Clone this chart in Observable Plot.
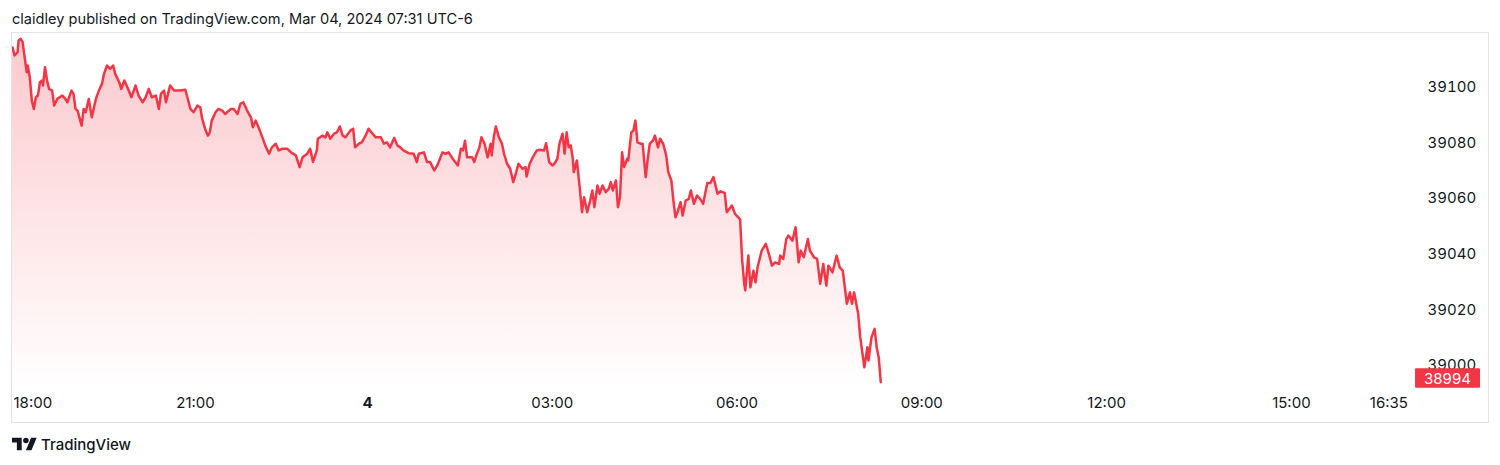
<!DOCTYPE html>
<html>
<head>
<meta charset="utf-8">
<script src="https://cdn.jsdelivr.net/npm/d3@7"></script>
<script src="https://cdn.jsdelivr.net/npm/@observablehq/plot@0.6"></script>
<style>
  html, body { margin: 0; padding: 0; background: #ffffff; }
  body { width: 1500px; height: 465px; position: relative; overflow: hidden; font-family: Inter, "Noto Sans", sans-serif; color: #131722; }
  #hdr { position: absolute; left: 12px; top: 9px; font-size: 14.6px; line-height: 20px; white-space: nowrap; }
  #chart { position: absolute; left: 0; top: 33px; }
  #frame { position: absolute; left: 11px; top: 32px; width: 1478px; height: 391px; box-sizing: border-box; border: 1px solid #E0E3EB; pointer-events: none; }
  #ftr { position: absolute; left: 12px; top: 434px; height: 20px; display: flex; align-items: center; gap: 4px; font-size: 15px; font-weight: 500; }
</style>
</head>
<body>
<div id="hdr">claidley published on TradingView.com, Mar 04, 2024 07:31 UTC-6</div>
<div id="chart"></div>
<div id="frame"></div>
<div id="ftr">
  <svg width="25" height="20" viewBox="0 2 36 22"><path d="M14 22H7V11H0V4h14v18zM28 22h-8l7.5-18h8L28 22z" fill="#131722"/><circle cx="20" cy="8" r="4" fill="#131722"/></svg>
  <span>TradingView</span>
</div>
<script>
// minutes after 18:00 (Mar 3)
const times = [0,2,5,6,8,10,11,14,15,17,19,21,23,25,27,29,30,32,34,36,39,41,44,49,52,54,58,60,62,64,68,70,72,75,78,82,85,88,90,93,96,99,101,105,107,110,113,117,121,124,128,131,134,137,141,144,146,149,151,155,159,165,170,172,175,178,182,185,187,190,193,195,197,201,204,208,211,217,220,224,227,230,234,238,240,243,246,250,253,257,260,264,267,271,276,280,285,289,292,297,300,303,307,308,313,316,318,321,325,328,331,334,337,342,345,347,351,354,358,361,365,368,373,376,379,382,386,389,392,395,400,405,408,410,415,418,421,425,428,433,436,439,443,448,451,453,455,457,462,464,466,469,471,474,477,480,481,483,485,488,491,493,496,499,502,504,507,511,514,515,518,522,525,528,532,534,537,540,542,545,547,550,552,554,556,558,560,561,564,567,569,571,574,577,579,581,584,586,589,592,595,597,599,602,604,606,608,610,613,614,617,619,621,623,626,628,631,633,635,638,640,643,645,648,651,653,656,658,660,662,665,667,670,673,675,678,681,684,687,691,694,697,701,704,708,710,715,718,723,725,727,728,731,733,736,738,740,744,748,751,754,757,761,762,765,768,770,774,777,780,782,785,789,791,795,798,801,804,807,809,813,817,820,823,827,830,832,834,838,840,844,847,848,851,854,856,858,860];
const prices = [39114.3,39111.4,39112.6,39116.8,39117.4,39116.2,39113.2,39105.4,39107.8,39103.6,39095.2,39092.2,39096.4,39097.0,39101.8,39102.4,39100.6,39107.2,39102.4,39099.4,39098.8,39093.4,39095.8,39097.0,39095.8,39094.6,39098.8,39097.6,39092.2,39091.6,39086.2,39092.2,39091.0,39095.8,39089.2,39095.8,39098.8,39101.2,39104.8,39107.8,39106.6,39107.8,39104.8,39101.8,39099.4,39102.4,39100.0,39096.4,39100.6,39097.0,39094.6,39096.4,39099.4,39096.4,39097.0,39092.2,39097.6,39098.8,39094.6,39100.6,39098.8,39098.8,39099.1,39096.4,39092.2,39091.0,39093.4,39092.8,39088.6,39085.1,39082.6,39083.8,39088.0,39091.0,39092.2,39091.6,39090.4,39092.2,39092.2,39090.4,39094.0,39094.6,39091.6,39089.2,39085.6,39088.0,39085.6,39082.0,39079.1,39076.1,39078.4,39079.7,39077.3,39077.9,39077.9,39076.6,39075.5,39071.3,39074.8,39076.1,39077.9,39073.1,39077.3,39081.5,39082.6,39082.0,39083.8,39081.5,39083.3,39083.8,39085.9,39082.6,39082.0,39084.4,39085.1,39078.4,39079.7,39080.2,39082.6,39085.1,39083.3,39082.0,39082.0,39079.7,39080.2,39078.4,39081.8,39079.1,39078.4,39077.3,39076.3,39076.1,39073.1,39076.1,39076.6,39073.1,39073.1,39070.1,39071.9,39076.6,39076.1,39076.6,39074.3,39071.9,39077.9,39077.3,39080.8,39074.8,39074.8,39073.1,39075.5,39078.4,39082.0,39079.7,39074.8,39079.7,39075.5,39082.0,39085.9,39082.0,39079.7,39076.1,39072.5,39070.7,39065.9,39068.3,39072.5,39070.7,39071.3,39067.9,39072.5,39075.5,39077.3,39077.5,39077.3,39079.9,39073.1,39071.9,39072.5,39074.3,39079.7,39083.3,39076.1,39083.8,39078.4,39079.1,39074.3,39069.5,39073.7,39062.9,39055.1,39060.5,39055.1,39059.3,39062.9,39056.9,39064.7,39061.7,39064.7,39062.3,39063.5,39065.9,39062.9,39066.5,39056.9,39060.5,39076.6,39071.3,39074.3,39073.7,39083.8,39084.4,39088.0,39080.2,39079.7,39079.7,39067.7,39074.3,39079.7,39080.8,39082.6,39078.4,39081.5,39079.7,39075.5,39069.5,39066.5,39059.3,39053.3,39055.1,39058.7,39053.9,39059.3,39059.9,39062.9,39058.1,39061.1,39059.9,39058.1,39065.6,39065.6,39067.7,39061.7,39062.6,39062.0,39055.1,39057.5,39054.5,39052.5,39037.7,39029.4,39027.0,39039.5,39028.1,39034.1,39029.9,39035.3,39041.3,39043.7,39040.1,39035.9,39037.1,39036.5,39039.5,39038.3,39045.5,39046.7,39044.9,39049.7,39037.1,39041.3,39038.9,39045.5,39041.3,39038.9,39038.3,39029.4,39036.5,39028.7,39035.9,39033.5,39039.5,39035.3,39034.1,39022.2,39026.3,39022.2,39026.3,39018.6,39010.2,38999.4,39006.6,39001.8,39010.2,39013.2,39006.6,39003.0,38994.0];
const xTickMinutes = [0, 180, 360, 540, 720, 900, 1080, 1260, 1355];
const xTickLabels = ["18:00", "21:00", "4", "03:00", "06:00", "09:00", "12:00", "15:00", "16:35"];
const yTicks = [39000, 39020, 39040, 39060, 39080, 39100];
const lastPrice = 38994;

const data = times.map((m, i) => ({m, p: prices[i]}));
const xt = xTickMinutes.map((m, i) => ({m, label: xTickLabels[i]}));
const yDomain = [38991.4, 39119.3];

const RED = "#F23645";
const INK = "#131722";

function priceTag(index, scales, values, dimensions) {
  const y = scales.y(lastPrice);
  const x0 = dimensions.width - dimensions.marginRight + 3;
  const g = d3.create("svg:g");
  g.append("rect").attr("x", x0).attr("y", y - 13.4).attr("width", 65).attr("height", 19.5).attr("rx", 1).attr("fill", RED);
  g.append("text").attr("x", x0 + 32.5).attr("y", y - 3.6).attr("text-anchor", "middle")
    .attr("dominant-baseline", "central").attr("fill", "#ffffff").attr("font-size", 15).text(String(lastPrice));
  return g.node();
}

const chart = Plot.plot({
  width: 1500,
  height: 389,
  marginTop: 0,
  marginBottom: 33,
  marginLeft: 12,
  marginRight: 88,
  style: {fontFamily: "Inter, 'Noto Sans', sans-serif", fontSize: "15px", color: INK, background: "transparent", overflow: "visible"},
  x: {type: "linear", domain: [0, 180, 360, 1378], range: [12, 195, 367, 1412], axis: null},
  y: {domain: yDomain, axis: null},
  marks: [
    Plot.areaY(data, {x: "m", y1: yDomain[0], y2: "p", fill: "url(#areaGrad)", curve: "linear"}),
    Plot.line(data, {x: "m", y: "p", stroke: RED, strokeWidth: 2.5}),
    Plot.axisY({anchor: "right", ticks: yTicks, tickSize: 0, tickPadding: 15, tickFormat: d => String(d), label: null, fill: INK}),
    Plot.text(xt.filter((d, i) => i > 0 && d.label !== "4"), {x: "m", text: "label", frameAnchor: "bottom", dy: 18, fill: INK}),
    Plot.text(xt.filter(d => d.label === "4"), {x: "m", text: "label", frameAnchor: "bottom", dy: 18, fill: INK, fontWeight: 700}),
    Plot.text(xt.slice(0, 1), {x: "m", text: "label", frameAnchor: "bottom", dy: 18, fill: INK, textAnchor: "start", dx: 1}),
    priceTag
  ]
});

const svg = d3.select(chart);
const defs = svg.insert("defs", ":first-child");
const grad = defs.append("linearGradient").attr("id", "areaGrad").attr("x1", 0).attr("y1", 0).attr("x2", 0).attr("y2", 1);
grad.append("stop").attr("offset", "0%").attr("stop-color", RED).attr("stop-opacity", 0.27);
grad.append("stop").attr("offset", "100%").attr("stop-color", RED).attr("stop-opacity", 0.0);

document.getElementById("chart").appendChild(chart);
</script>
</body>
</html>
